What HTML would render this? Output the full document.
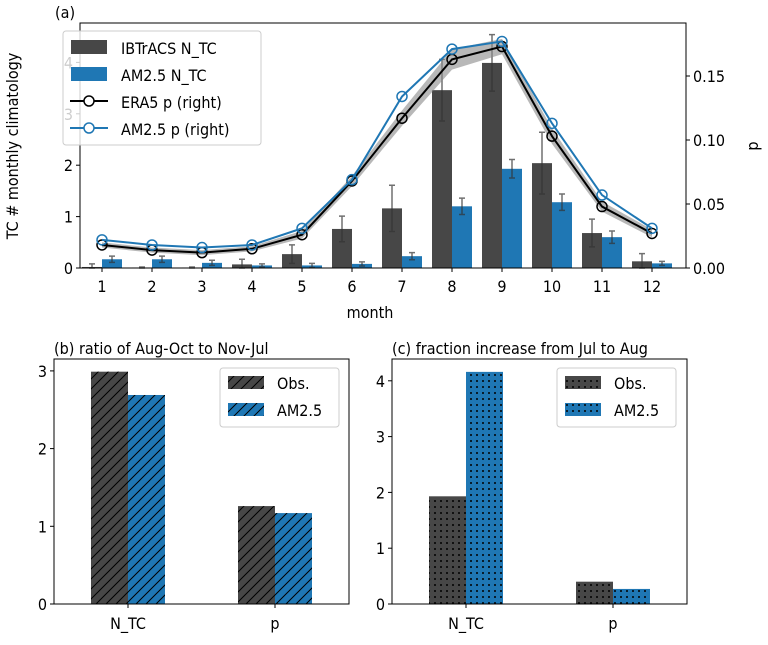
<!DOCTYPE html>
<html><head><meta charset="utf-8"><style>
body{margin:0;background:#fff}
svg text{font-family:"DejaVu Sans Condensed","DejaVu Sans","Liberation Sans",sans-serif;font-stretch:condensed;fill:#000}
</style></head><body>
<svg id="fig" width="768" height="640">
<defs>
<pattern id="hatch" width="10" height="10" patternUnits="userSpaceOnUse"><path d="M-2,12 L12,-2 M-2,2 L2,-2 M8,12 L12,8" stroke="#000" stroke-width="1"/></pattern>
<pattern id="dots" width="6" height="6" patternUnits="userSpaceOnUse"><circle cx="3" cy="3" r="1" fill="#000"/></pattern>
</defs>
<g id="a"></g>
<g id="b"></g>
<g id="c"></g>
</svg>
<script>
const months=[1,2,3,4,5,6,7,8,9,10,11,12];
const obsN=[0.02,0.01,0.01,0.07,0.27,0.76,1.16,3.46,3.99,2.04,0.68,0.13];
const obsErr=[0.06,0.01,0.01,0.1,0.18,0.25,0.45,0.6,0.55,0.6,0.27,0.15];
const amN=[0.17,0.17,0.10,0.05,0.05,0.08,0.23,1.20,1.93,1.28,0.60,0.09];
const amErr=[0.06,0.06,0.05,0.03,0.04,0.04,0.07,0.16,0.18,0.16,0.12,0.04];
const era5P=[0.018,0.014,0.012,0.015,0.026,0.068,0.117,0.163,0.173,0.103,0.048,0.027];
const era5Spread=[0.002,0.002,0.002,0.002,0.003,0.004,0.006,0.008,0.006,0.006,0.004,0.003];
const amP=[0.022,0.018,0.016,0.018,0.031,0.069,0.134,0.171,0.177,0.113,0.057,0.031];
const leftTicks=[0,1,2,3,4];
const rightTicks=[0,0.05,0.10,0.15];
const rightTickLabels=["0.00","0.05","0.10","0.15"];
const barCats=["N_TC","p"];
const ratioObs=[2.99,1.26];
const ratioAm=[2.69,1.17];
const fracObs=[1.93,0.40];
const fracAm=[4.16,0.27];
const ticksB=[0,1,2,3];
const ticksC=[0,1,2,3,4];

const NS="http://www.w3.org/2000/svg";
const FS=16;
function mk(p,t,a,txt){const e=document.createElementNS(NS,t);for(const k in a)e.setAttribute(k,a[k]);if(txt!==undefined)e.textContent=txt;p.appendChild(e);return e;}
const GRAY="#474747",BLUE="#1f77b4";

const A=document.getElementById('a');
const L=80,R=686,T=23,B=268;
const xA=m=>102+(m-1)*50;
const yL=v=>B-v*51.4;
const yR=v=>B-v*1280;
months.forEach((m,i)=>{
  let r=mk(A,'rect',{x:xA(m)-20,y:yL(obsN[i]),width:20,height:B-yL(obsN[i]),fill:GRAY});
  
  r=mk(A,'rect',{x:xA(m),y:yL(amN[i]),width:20,height:B-yL(amN[i]),fill:BLUE});
  
  [[xA(m)-10,obsN[i],obsErr[i]],[xA(m)+10,amN[i],amErr[i]]].forEach(([cx,v,e])=>{
    const y1=yL(Math.max(0,v-e)),y2=yL(v+e);
    mk(A,'path',{d:`M${cx},${y1}V${y2}M${cx-3},${y1}h6M${cx-3},${y2}h6`,stroke:'#333','stroke-width':1.5,'stroke-opacity':0.7,fill:'none'});
  });
});
let up=months.map((m,i)=>`${xA(m)},${yR(era5P[i]+era5Spread[i])}`),dn=months.map((m,i)=>`${xA(m)},${yR(era5P[i]-era5Spread[i])}`).reverse();
mk(A,'polygon',{points:up.concat(dn).join(' '),fill:'#888','fill-opacity':0.6});
[[era5P,'#000','era5'],[amP,BLUE,'am']].forEach(([d,c,n])=>{
  const pl=mk(A,'polyline',{points:months.map((m,i)=>`${xA(m)},${yR(d[i])}`).join(' '),fill:'none',stroke:c,'stroke-width':2});
  
  months.forEach((m,i)=>mk(A,'circle',{cx:xA(m),cy:yR(d[i]),r:5,fill:'none',stroke:c,'stroke-width':1.5}));
});
mk(A,'rect',{x:L,y:T,width:R-L,height:B-T,fill:'none',stroke:'#000','stroke-width':1});
leftTicks.forEach(v=>{mk(A,'line',{x1:L-4,x2:L,y1:yL(v),y2:yL(v),stroke:'#000'});mk(A,'text',{x:L-7,y:yL(v)+6,'text-anchor':'end','font-size':FS},v);});
rightTicks.forEach((v,i)=>{mk(A,'line',{x1:R,x2:R+4,y1:yR(v),y2:yR(v),stroke:'#000'});mk(A,'text',{x:R+7,y:yR(v)+6,'font-size':FS},rightTickLabels[i]);});
months.forEach(m=>{mk(A,'line',{x1:xA(m),x2:xA(m),y1:B,y2:B+4,stroke:'#000'});mk(A,'text',{x:xA(m),y:B+24,'text-anchor':'middle','font-size':FS},m);});
let t=mk(A,'text',{x:370,y:318,'text-anchor':'middle','font-size':FS},'month');
t=mk(A,'text',{x:0,y:0,transform:'translate(18,146) rotate(-90)','text-anchor':'middle','font-size':FS},'TC # monthly climatology');
t=mk(A,'text',{x:0,y:0,transform:'translate(758,146) rotate(-90)','text-anchor':'middle','font-size':FS},'p');
mk(A,'text',{x:55,y:18,'font-size':FS},'(a)');
const lg=mk(A,'g',{});
mk(lg,'rect',{x:63,y:31,width:198,height:114,rx:3,fill:'#fff','fill-opacity':0.8,stroke:'#ccc'});
mk(lg,'rect',{x:71,y:40,width:36,height:14,fill:GRAY});mk(lg,'text',{x:121,y:54,'font-size':FS},'IBTrACS N_TC');
mk(lg,'rect',{x:71,y:67,width:36,height:14,fill:BLUE});mk(lg,'text',{x:121,y:81,'font-size':FS},'AM2.5 N_TC');
mk(lg,'line',{x1:70,x2:108,y1:101,y2:101,stroke:'#000','stroke-width':2});mk(lg,'circle',{cx:89,cy:101,r:5,fill:'#fff',stroke:'#000','stroke-width':1.5});mk(lg,'text',{x:121,y:108,'font-size':FS},'ERA5 p (right)');
mk(lg,'line',{x1:70,x2:108,y1:128,y2:128,stroke:BLUE,'stroke-width':2});mk(lg,'circle',{cx:89,cy:128,r:5,fill:'#fff',stroke:BLUE,'stroke-width':1.5});mk(lg,'text',{x:121,y:135,'font-size':FS},'AM2.5 p (right)');

function barPanel(G,L,R,T,B,scale,obs,am,ticks,pat,title,lx){
  const y=v=>B-v*scale;const cx=[L+74,L+221];
  barCats.forEach((c,i)=>{
    [[obs[i],GRAY,-37,'obs'],[am[i],BLUE,0,'am']].forEach(([v,col,off,n])=>{
      const r=mk(G,'rect',{x:cx[i]+off,y:y(v),width:37,height:B-y(v),fill:col});
      
      mk(G,'rect',{x:cx[i]+off,y:y(v),width:37,height:B-y(v),fill:`url(#${pat})`});
    });
    mk(G,'line',{x1:cx[i],x2:cx[i],y1:B,y2:B+4,stroke:'#000'});
    mk(G,'text',{x:cx[i],y:B+25,'text-anchor':'middle','font-size':FS},c);
  });
  mk(G,'rect',{x:L,y:T,width:R-L,height:B-T,fill:'none',stroke:'#000'});
  ticks.forEach(v=>{mk(G,'line',{x1:L-4,x2:L,y1:y(v),y2:y(v),stroke:'#000'});mk(G,'text',{x:L-7,y:y(v)+6,'text-anchor':'end','font-size':FS},v);});
  mk(G,'text',{x:L,y:T-5,'font-size':FS},title);
  const g=mk(G,'g',{});
  mk(g,'rect',{x:lx,y:368,width:119,height:59,rx:3,fill:'#fff',stroke:'#ccc'});
  [[GRAY,'Obs.',376],[BLUE,'AM2.5',403]].forEach(([c,l,yy])=>{
    mk(g,'rect',{x:lx+8,y:yy,width:36,height:13,fill:c});mk(g,'rect',{x:lx+8,y:yy,width:36,height:13,fill:`url(#${pat})`});
    mk(g,'text',{x:lx+57,y:yy+13,'font-size':FS},l);
  });
}
barPanel(document.getElementById('b'),54,349,359,604,77.7,ratioObs,ratioAm,ticksB,'hatch','(b) ratio of Aug-Oct to Nov-Jul',220);
barPanel(document.getElementById('c'),392,687,359,604,55.8,fracObs,fracAm,ticksC,'dots','(c) fraction increase from Jul to Aug',557);
</script>
</body></html>
